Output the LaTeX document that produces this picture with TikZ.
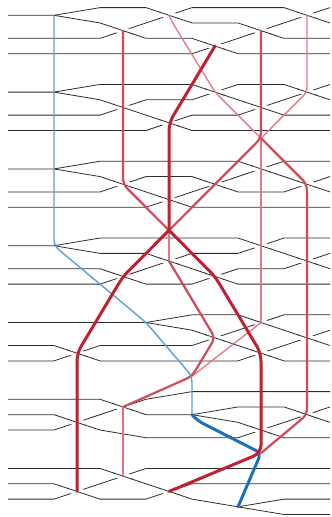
\documentclass[tikz,border=0pt]{standalone}
\usetikzlibrary{calc}
\definecolor{wirec}{RGB}{45,45,45}
\definecolor{thickc}{RGB}{192,32,48}
\definecolor{medc}{RGB}{208,74,90}
\definecolor{pinkc}{RGB}{228,118,134}
\definecolor{bluec}{RGB}{88,160,216}
\definecolor{bluedc}{RGB}{28,112,192}
\tikzset{
  wire/.style={draw=wirec, line width=0.8pt, line join=round},
  gapw/.style={draw=white, line width=7.5pt},
  pinkl/.style={draw=pinkc, line width=1.3pt, line cap=round, line join=round},
  medr/.style={draw=medc, line width=2.2pt, line cap=round, line join=round},
  thickr/.style={draw=thickc, line width=3pt, line cap=round, line join=round},
  bluet/.style={draw=bluec, line width=1.4pt, line cap=round, line join=round},
  blueT/.style={draw=bluedc, line width=3pt, line cap=round, line join=round},
}
\begin{document}
\begin{tikzpicture}[x=23pt, y=-7.68pt, shift={(8pt,-15.3pt)}]
\fill[white] ({-8/23},{-15.3/7.68}) rectangle ({324/23},{501.7/7.68});
\useasboundingbox ({-8/23},{-15.3/7.68}) rectangle ({324/23},{501.7/7.68});

% ---------- wires ----------
% group 0
\draw[wire] (0,0) -- (2,0) -- (4,-1) -- (6,-1) -- (8,1) -- (10,1) -- (12,3) -- (14,3);
\draw[wire] (2,0) -- (4,1) -- (6,3) -- (8,3) -- (10,5) -- (14,5);
\draw[wire] (0,3) -- (4,3) -- (8,-1) -- (12,-1) -- (14,1);
\draw[wire] (0,5) -- (8,5) -- (14,-1);
% group 1
\draw[wire] (0,10) -- (2,10) -- (4,9) -- (8,9) -- (12,13) -- (14,13);
\draw[wire] (2,10) -- (4,11) -- (8,15) -- (14,15);
\draw[wire] (0,13) -- (4,13) -- (6,11) -- (8,11) -- (10,9) -- (12,9) -- (14,11);
\draw[wire] (0,15) -- (6,15) -- (8,13) -- (10,13) -- (14,9);
% group 2
\draw[wire] (0,20) -- (2,20) -- (4,19) -- (10,19) -- (14,23);
\draw[wire] (2,20) -- (4,21) -- (8,25) -- (14,25);
\draw[wire] (0,23) -- (4,23) -- (6,21) -- (8,21) -- (10,23) -- (12,23) -- (14,21);
\draw[wire] (0,25) -- (6,25) -- (12,19) -- (14,19);
% group 3
\draw[wire] (0,30) -- (2,30) -- (4,29) -- (10,29) -- (14,33);
\draw[wire] (2,30) -- (4,31) -- (6,31) -- (10,35) -- (14,35);
\draw[wire] (0,33) -- (4,33) -- (6,35) -- (8,35) -- (10,33) -- (12,33) -- (14,31);
\draw[wire] (0,35) -- (4,35) -- (8,31) -- (10,31) -- (12,29) -- (14,29);
% group 4
\draw[wire] (0,40) -- (6,40) -- (8,39) -- (10,39) -- (14,43);
\draw[wire] (6,40) -- (8,41) -- (12,45) -- (14,45);
\draw[wire] (0,43) -- (2,43) -- (4,45) -- (10,45) -- (14,41);
\draw[wire] (0,45) -- (2,45) -- (4,43) -- (8,43) -- (12,39) -- (14,39);
% group 5
\draw[wire] (0,50) -- (4,50) -- (6,52) -- (8,52) -- (10,51) -- (12,51) -- (14,53);
\draw[wire] (8,52) -- (10,53) -- (12,55) -- (14,55);
\draw[wire] (0,52) -- (2,52) -- (4,54) -- (6,55) -- (10,55) -- (14,51);
\draw[wire] (0,54) -- (2,54) -- (6,50) -- (8,49) -- (14,49);
% group 6
\draw[wire] (0,59) -- (4,59) -- (8,63) -- (10,64) -- (12,63) -- (14,63);
\draw[wire] (10,64) -- (12,65) -- (14,65);
\draw[wire] (0,61) -- (2,61) -- (4,63) -- (6,63) -- (8,61) -- (14,61);
\draw[wire] (0,63) -- (2,63) -- (6,59) -- (14,59);

% ---------- crossings: descending strand passes over ----------
\foreach \k/\n in {5/2,7/0,9/4,11/2,13/0,
                   5/12,7/14,9/10,11/12,13/10,
                   5/22,7/24,9/22,11/20,13/22,
                   5/34,7/32,9/34,11/30,13/32,
                   3/44,9/42,11/40,11/44,13/42,
                   3/53,5/51,11/54,13/52,
                   3/62,5/60,7/62}{
  \path[gapw] ({\k-0.36},{\n-0.36}) -- ({\k+0.36},{\n+0.36});
  \draw[wire] ({\k-0.42},{\n-0.42}) -- ({\k+0.42},{\n+0.42});
}

% ---------- junctions of the coloured paths ----------
\coordinate (b0) at (2,0);   \coordinate (b30) at (2,30);
\coordinate (b40) at (6,40); \coordinate (j2) at (8,47);
\coordinate (b52) at (8,52); \coordinate (j4) at (11,57);
\coordinate (b64) at (10,64);
\coordinate (r52) at (5,2);  \coordinate (p70) at (7,0);
\coordinate (t94) at (9,4);  \coordinate (r112) at (11,2);
\coordinate (p130) at (13,0);\coordinate (p1310) at (13,10);
\coordinate (p910) at (9,10);\coordinate (t714) at (7,14);
\coordinate (j0) at (11,16); \coordinate (r522) at (5,22);
\coordinate (r1322) at (13,22); \coordinate (j1) at (7,28);
\coordinate (m732) at (7,32); \coordinate (t534) at (5,34);
\coordinate (t934) at (9,34); \coordinate (t344) at (3,44);
\coordinate (t1144) at (11,44); \coordinate (p1140) at (11,40);
\coordinate (m942) at (9,42); \coordinate (r551) at (5,51);
\coordinate (r560) at (5,60); \coordinate (r1352) at (13,52);
\coordinate (t362) at (3,62); \coordinate (t762) at (7,62);

% pink thin
\draw[pinkl, rounded corners=5pt] (p70) -- (7.2,1.2) -- (p910) -- (j0);
\draw[pinkl, rounded corners=5pt] (p130) -- (p1310) -- (j0);
\draw[pinkl] (j0) -- (p1140);
\draw[pinkl, rounded corners=4pt] (p1140) -- (j2);
\draw[pinkl, line width=1.6pt] (j1) -- (m732);

% medium red
\draw[medr, rounded corners=6pt] (r52) -- (r522) -- (j1);
\draw[medr, rounded corners=6pt] (r112) -- (j0) -- (j1);
\draw[medr, rounded corners=6pt] (j0) -- (r1322) -- (r1352) -- (j4);
\draw[medr, rounded corners=6pt] (m732) -- (m942) -- (j2) -- (r551);
\draw[medr, draw=pinkc!85!medc, line width=1.9pt, rounded corners=4pt] (r551) -- (r560);

% blue
\draw[bluet, rounded corners=6pt] (b0) -- (b30) -- (b40) -- (j2) -- (b52);
\draw[blueT, rounded corners=6pt] (b52) -- (8.25,52.8) -- (j4) -- (b64);

% thick red
\draw[thickr, rounded corners=8pt] (t94) -- (t714) -- (j1);
\draw[thickr, rounded corners=8pt] (j1) -- (t534) -- (t344) -- (t362);
\draw[thickr, rounded corners=8pt] (j1) -- (t934) -- (t1144) -- (j4) -- (t762);
\end{tikzpicture}
\end{document}
